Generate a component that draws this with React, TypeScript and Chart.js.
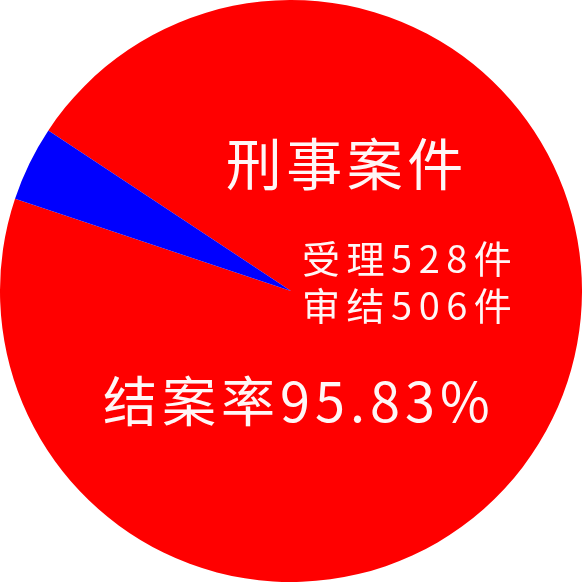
import React, { useEffect, useRef } from "react";
import { Chart, registerables } from "chart.js";

Chart.register(...registerables);

const labels = ["审结", "未结"];
const values = [506, 22];
const colors = ["#FF0000", "#0000FF"];
const titleText = "刑事案件";
const countLines = ["受理528件", "审结506件"];
const rateText = "结案率95.83%";

const FONT = '"Noto Sans CJK SC", "Noto Sans", sans-serif';

const textPlugin = {
  id: "pieText",
  afterDraw(chart: any) {
    const ctx = chart.ctx as CanvasRenderingContext2D;
    const { left, top, width, height } = chart.chartArea;
    const px = (f: number) => left + f * width;
    const py = (f: number) => top + f * height;
    const draw = (
      text: string,
      x: number,
      y: number,
      size: number,
      spacing: number,
      align: CanvasTextAlign
    ) => {
      ctx.save();
      ctx.font = `400 ${size}px ${FONT}`;
      (ctx as any).letterSpacing = `${spacing}px`;
      ctx.fillStyle = "#FFF6F6";
      ctx.textAlign = align;
      ctx.textBaseline = "middle";
      ctx.fillText(text, x, y);
      ctx.restore();
    };
    draw(titleText, px(0.388), py(0.282), 56, 4.5, "left");
    draw(countLines[0], px(0.519), py(0.445), 38, 6.5, "left");
    draw(countLines[1], px(0.519), py(0.525), 38, 6.5, "left");
    draw(rateText, px(0.177), py(0.689), 54, 5, "left");
  },
};

export default function App() {
  const ref = useRef<HTMLCanvasElement | null>(null);
  useEffect(() => {
    if (!ref.current) return;
    const chart = new Chart(ref.current, {
      type: "pie",
      data: {
        labels,
        datasets: [
          {
            data: values,
            backgroundColor: colors,
            borderWidth: 0,
          },
        ],
      },
      options: {
        responsive: false,
        animation: false,
        rotation: 303.5,
        layout: { padding: 0 },
        plugins: {
          legend: { display: false },
          tooltip: { enabled: false },
        },
      },
      plugins: [textPlugin],
    });
    return () => chart.destroy();
  }, []);
  return (
    <div style={{ position: "absolute", left: 0, top: 0, width: 582, height: 582, background: "#fff" }}>
      <canvas ref={ref} width={582} height={582} style={{ display: "block" }} />
    </div>
  );
}
